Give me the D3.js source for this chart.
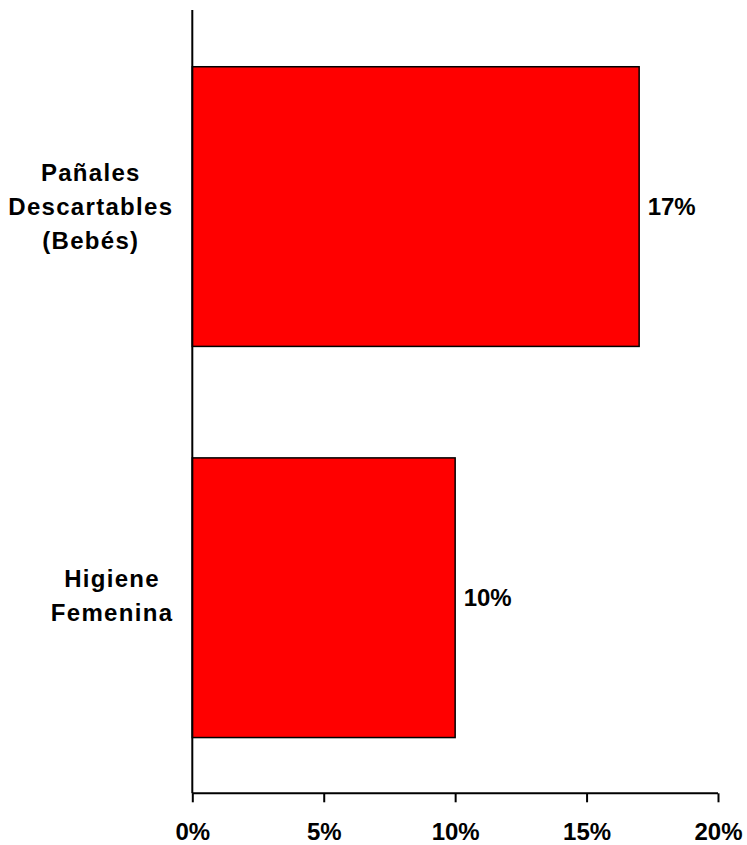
<!DOCTYPE html>
<html>
<head>
<meta charset="utf-8">
<script src="https://cdn.jsdelivr.net/npm/d3@7"></script>
<style>
  html, body { margin: 0; padding: 0; background: #ffffff; }
  svg { display: block; }
  text { font-family: "Liberation Sans", Arial, sans-serif; font-weight: bold; fill: #000; }
</style>
</head>
<body>
<svg id="chart" width="747" height="845"></svg>
<script>
const categories = [["Pañales", "Descartables", "(Bebés)"], ["Higiene", "Femenina"]];
const categoryKeys = ["Pañales Descartables (Bebés)", "Higiene Femenina"];
const values = [17, 10];
const valueLabels = ["17%", "10%"];
const tickValues = [0, 5, 10, 15, 20];
const tickLabels = ["0%", "5%", "10%", "15%", "20%"];

const svg = d3.select("#chart");
const plotLeft = 192.3, plotRight = 718, plotTop = 11, plotBottom = 793.3;

const x = d3.scaleLinear().domain([0, 20]).range([plotLeft, plotRight]);
const y = d3.scaleBand().domain(categoryKeys).range([plotTop, plotBottom])
  .paddingInner(0.285).paddingOuter(0.1425);

// bars
svg.selectAll("rect.bar").data(values).enter().append("rect")
  .attr("class", "bar")
  .attr("x", x(0))
  .attr("y", (d, i) => y(categoryKeys[i]))
  .attr("width", d => x(d) - x(0))
  .attr("height", y.bandwidth())
  .attr("fill", "#ff0000")
  .attr("stroke", "#000")
  .attr("stroke-width", 1.5);

// value labels
svg.selectAll("text.val").data(values).enter().append("text")
  .attr("class", "val")
  .attr("x", d => x(d) + 8.5)
  .attr("y", (d, i) => y(categoryKeys[i]) + y.bandwidth() / 2)
  .attr("dy", "0.36em")
  .attr("font-size", 24)
  .text((d, i) => valueLabels[i]);

// x axis
const xAxis = d3.axisBottom(x).tickValues(tickValues)
  .tickFormat((d, i) => tickLabels[i]).tickSize(9).tickPadding(21);
const gx = svg.append("g").attr("transform", `translate(0,${plotBottom})`).call(xAxis);
gx.select(".domain").attr("stroke", "#000").attr("stroke-width", 2).attr("d", `M${plotLeft},0H${plotRight}`);
gx.selectAll(".tick line").attr("stroke", "#000").attr("stroke-width", 2);
gx.selectAll(".tick text").attr("font-size", 24).attr("font-family", "Liberation Sans, Arial, sans-serif")
  .attr("font-weight", "bold").attr("fill", "#000");

// y axis line
svg.append("line").attr("x1", plotLeft).attr("x2", plotLeft).attr("y1", 10).attr("y2", plotBottom)
  .attr("stroke", "#000").attr("stroke-width", 2);

// category labels (wrapped, centered within block right-aligned to axis)
const lineH = 34;
categories.forEach((lines, i) => {
  const g = svg.append("g");
  const cy = y(categoryKeys[i]) + y.bandwidth() / 2;
  const t = g.append("text").attr("font-size", 24).attr("letter-spacing", 1.3).attr("text-anchor", "middle");
  lines.forEach((ln, j) => {
    t.append("tspan").attr("x", 0)
      .attr("y", cy + (j - (lines.length - 1) / 2) * lineH - (lines.length === 2 ? 2.5 : 0))
      .attr("dy", "0.36em").text(ln);
  });
  const bb = t.node().getBBox();
  const blockRight = plotLeft - 19;
  t.attr("transform", `translate(${blockRight - bb.width / 2},0)`);
});
</script>
</body>
</html>
